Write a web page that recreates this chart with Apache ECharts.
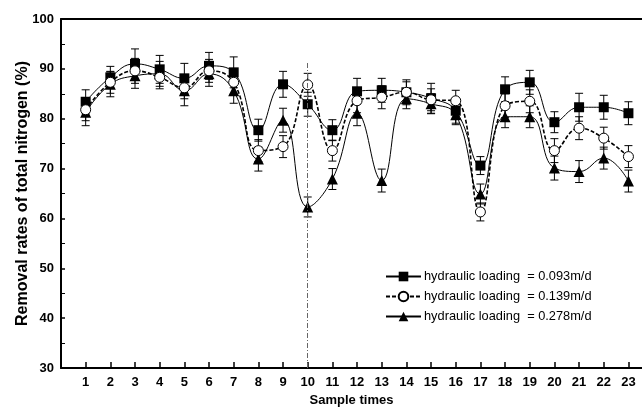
<!DOCTYPE html>
<html>
<head>
<meta charset="utf-8">
<script src="https://cdn.jsdelivr.net/npm/echarts@6/dist/echarts.min.js"></script>
<style>
    html, body { margin: 0; padding: 0; background: #fff; }
    #chart { width: 642px; height: 408px; }
</style>
</head>
<body>
<div id="chart"></div>
<script>
// sample index 1..23
var samples = [1, 2, 3, 4, 5, 6, 7, 8, 9, 10, 11, 12, 13, 14, 15, 16, 17, 18, 19, 20, 21, 22, 23]
// removal rates (%) per hydraulic loading
var load093 = [83.4, 88.3, 91.0, 89.9, 88.1, 90.6, 89.3, 77.7, 86.9, 82.9, 77.7, 85.5, 85.7, 85.3, 84.1, 81.6, 70.6, 85.9, 87.3, 79.3, 82.3, 82.3, 81.1]
var load139 = [81.8, 87.3, 89.6, 88.3, 86.2, 89.6, 87.3, 73.6, 74.4, 86.8, 73.6, 83.6, 84.3, 85.3, 83.8, 83.6, 61.3, 82.6, 83.5, 73.6, 78.1, 76.1, 72.4]
var load278 = [81.3, 86.9, 88.6, 89.0, 85.6, 89.0, 85.6, 71.9, 79.7, 62.3, 67.9, 81.1, 67.6, 84.0, 83.0, 80.8, 64.9, 80.4, 80.4, 70.1, 69.4, 72.1, 67.5]
// standard deviations
var err093 = [2.4, 2.2, 3.0, 2.8, 3.0, 2.7, 3.1, 2.2, 2.6, 2.4, 2.1, 2.6, 2.4, 2.5, 3.0, 2.5, 1.8, 2.5, 2.4, 2.1, 2.8, 2.4, 2.3]
var err139 = [2.2, 2.2, 2.5, 2.3, 2.2, 2.3, 2.4, 2.2, 2.2, 2.3, 2.1, 2.4, 2.3, 2.1, 2.2, 2.1, 1.8, 2.4, 2.3, 2.4, 2.3, 2.2, 2.2]
var err278 = [2.7, 2.5, 2.5, 2.5, 3.0, 2.5, 2.5, 2.4, 2.4, 2.0, 2.1, 2.5, 2.3, 2.0, 2.0, 2.0, 2.0, 2.2, 2.2, 2.4, 2.2, 2.2, 2.2]
var names = ['hydraulic loading  = 0.093m/d', 'hydraulic loading  = 0.139m/d', 'hydraulic loading  = 0.278m/d']
var yTicks = [30, 40, 50, 60, 70, 80, 90, 100]
// dash-dot marker line at sample 10
var refLine = { x: 10, from: 30, to: 91.2 }

var font = 'Arial, "Liberation Sans", sans-serif'
var xMax = 23.55

function pairs (vals) {
    return samples.map(function (s, i) { return [s, vals[i]] })
}
function errData (vals, errs) {
    return samples.map(function (s, i) { return [s, vals[i], errs[i]] })
}
function errorBars (params, api) {
    var x = api.value(0)
    var y = api.value(1)
    var e = api.value(2)
    var hi = api.coord([x, y + e])
    var lo = api.coord([x, y - e])
    var w = 4
    var style = { stroke: '#000', lineWidth: 1 }
    return {
        type: 'group',
        children: [
            { type: 'line', shape: { x1: hi[0], y1: hi[1], x2: lo[0], y2: lo[1] }, style: style },
            { type: 'line', shape: { x1: hi[0] - w, y1: hi[1], x2: hi[0] + w, y2: hi[1] }, style: style },
            { type: 'line', shape: { x1: lo[0] - w, y1: lo[1], x2: lo[0] + w, y2: lo[1] }, style: style }
        ]
    }
}
function errSeries (vals, errs) {
    return {
        type: 'custom',
        renderItem: errorBars,
        data: errData(vals, errs),
        z: 1,
        silent: true,
        animation: false
    }
}

var myChart = echarts.init(document.getElementById('chart'))
var option = {
    animation: false,
    backgroundColor: '#fff',
    grid: {
        left: 61,
        right: 0,
        top: 19,
        bottom: 40,
        outerBoundsMode: 'none'
    },
    legend: {
        data: names,
        orient: 'vertical',
        left: 385,
        top: 270,
        padding: 0,
        itemWidth: 35,
        itemHeight: 12,
        itemGap: 7,
        textStyle: { fontFamily: font, fontSize: 12.8, color: '#000', padding: [0, 0, 0, -2] }
    },
    xAxis: [{
        type: 'value',
        min: 0,
        max: xMax,
        interval: 1,
        name: 'Sample times',
        nameLocation: 'middle',
        nameGap: 26,
        nameTextStyle: { fontFamily: font, fontSize: 13, fontWeight: 'bold', color: '#000' },
        axisLine: { lineStyle: { color: '#000', width: 2 } },
        axisTick: { inside: true, length: 6, lineStyle: { color: '#000', width: 1.5 } },
        axisLabel: {
            fontFamily: font,
            fontSize: 13,
            fontWeight: 'bold',
            color: '#000',
            margin: 8,
            showMaxLabel: false,
            formatter: function (v) {
                return samples.indexOf(v) >= 0 ? String(v) : ''
            }
        },
        splitLine: { show: false }
    }, {
        // top frame line only
        type: 'value',
        position: 'top',
        min: 0,
        max: xMax,
        axisLine: { show: true, lineStyle: { color: '#000', width: 2 } },
        axisTick: { show: false },
        axisLabel: { show: false },
        splitLine: { show: false }
    }],
    yAxis: {
        type: 'value',
        min: yTicks[0],
        max: yTicks[yTicks.length - 1],
        interval: 10,
        name: 'Removal rates of total nitrogen (%)',
        nameLocation: 'middle',
        nameGap: 30,
        nameMoveOverlap: false,
        nameTextStyle: { fontFamily: font, fontSize: 16, fontWeight: 'bold', color: '#000' },
        axisLine: { show: true, lineStyle: { color: '#000', width: 2 } },
        axisTick: { show: true, inside: true, length: 4, lineStyle: { color: '#000', width: 1.5 } },
        minorTick: { show: true, splitNumber: 2, length: 4, lineStyle: { color: '#000', width: 1 } },
        axisLabel: { fontFamily: font, fontSize: 13, fontWeight: 'bold', color: '#000', margin: 7 },
        splitLine: { show: false }
    },
    series: [
        errSeries(load093, err093),
        errSeries(load139, err139),
        errSeries(load278, err278),
        {
            name: names[0],
            type: 'line',
            smooth: 0.45,
            data: pairs(load093),
            symbol: 'rect',
            symbolSize: 10,
            z: 3,
            itemStyle: { color: '#000' },
            lineStyle: { color: '#000', width: 1 },
            markLine: {
                silent: true,
                symbol: 'none',
                label: { show: false },
                lineStyle: { color: '#666', width: 1, type: [5, 2, 1, 2] },
                data: [[{ coord: [refLine.x, refLine.from] }, { coord: [refLine.x, refLine.to] }]]
            }
        },
        {
            name: names[1],
            type: 'line',
            smooth: 0.45,
            data: pairs(load139),
            symbol: 'circle',
            symbolSize: 10,
            z: 4,
            itemStyle: { color: '#fff', borderColor: '#000', borderWidth: 1 },
            lineStyle: { color: '#000', width: 1.6, type: [4, 2] }
        },
        {
            name: names[2],
            type: 'line',
            smooth: 0.45,
            data: pairs(load278),
            symbol: 'triangle',
            symbolSize: 11,
            z: 3,
            itemStyle: { color: '#000' },
            lineStyle: { color: '#000', width: 1 }
        }
    ]
}
myChart.setOption(option)
</script>
</body>
</html>
